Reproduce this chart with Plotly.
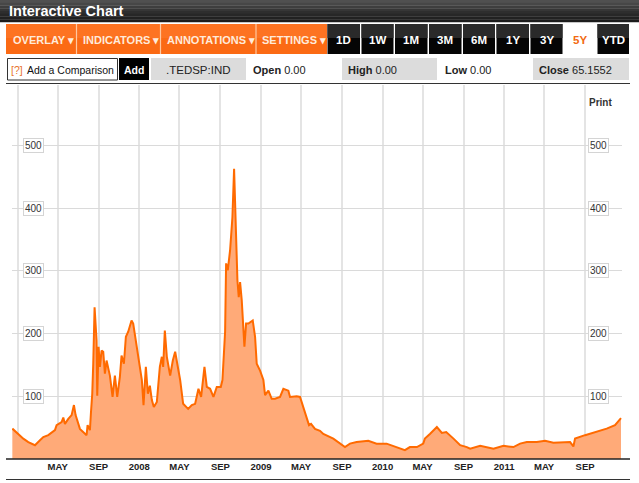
import plotly.graph_objects as go

# ---------------- data ----------------
dates = [
    "2006-12-16", "2006-12-29", "2007-01-18", "2007-02-02", "2007-02-22", "2007-03-09", "2007-03-19",
    "2007-04-03", "2007-04-23", "2007-04-28", "2007-05-13", "2007-05-18", "2007-05-23", "2007-06-02",
    "2007-06-12", "2007-06-19", "2007-06-24", "2007-07-07", "2007-07-17", "2007-07-27", "2007-07-30",
    "2007-08-06", "2007-08-09", "2007-08-13", "2007-08-16", "2007-08-20", "2007-08-26", "2007-08-28",
    "2007-09-01", "2007-09-05", "2007-09-10", "2007-09-15", "2007-09-20", "2007-09-25", "2007-10-05",
    "2007-10-13", "2007-10-20", "2007-10-27", "2007-11-04", "2007-11-09", "2007-11-16", "2007-11-22",
    "2007-11-29", "2007-12-09", "2007-12-14", "2007-12-19", "2007-12-29", "2008-01-09", "2008-01-14",
    "2008-01-21", "2008-01-27", "2008-02-02", "2008-02-08", "2008-02-14", "2008-02-23", "2008-03-03",
    "2008-03-09", "2008-03-13", "2008-03-18", "2008-03-24", "2008-04-03", "2008-04-11", "2008-04-18",
    "2008-04-23", "2008-05-03", "2008-05-12", "2008-05-27", "2008-06-07", "2008-06-17", "2008-06-27",
    "2008-07-05", "2008-07-15", "2008-07-22", "2008-08-01", "2008-08-11", "2008-08-21", "2008-09-02",
    "2008-09-07", "2008-09-12", "2008-09-15", "2008-09-18", "2008-09-23", "2008-09-30", "2008-10-03",
    "2008-10-07", "2008-10-12", "2008-10-15", "2008-10-18", "2008-10-22", "2008-10-26", "2008-10-30",
    "2008-11-04", "2008-11-09", "2008-11-12", "2008-11-17", "2008-11-24", "2008-12-07", "2008-12-14",
    "2008-12-19", "2008-12-29", "2009-01-08", "2009-01-13", "2009-01-23", "2009-02-02", "2009-02-12",
    "2009-02-27", "2009-03-09", "2009-03-24", "2009-03-29", "2009-04-18", "2009-04-28", "2009-05-08",
    "2009-05-18", "2009-05-25", "2009-05-31", "2009-06-12", "2009-06-27", "2009-07-07", "2009-08-06",
    "2009-08-26", "2009-09-10", "2009-09-25", "2009-10-15", "2009-11-19", "2009-12-14", "2010-01-13",
    "2010-02-13", "2010-03-09", "2010-03-24", "2010-04-14", "2010-05-03", "2010-05-08", "2010-05-23",
    "2010-06-13", "2010-06-28", "2010-07-11", "2010-08-02", "2010-08-22", "2010-09-11", "2010-09-21",
    "2010-10-21", "2010-11-30", "2010-12-30", "2011-01-29", "2011-02-18", "2011-03-10", "2011-04-09",
    "2011-05-04", "2011-05-29", "2011-07-18", "2011-07-28", "2011-08-02", "2011-09-01", "2011-10-06",
    "2011-11-05", "2011-11-30", "2011-12-18",
]
ted_spread = [
    48.5, 42, 32.5, 27, 22, 30, 35,
    38, 46, 54, 59, 66, 56, 64,
    70, 86, 70, 48, 43, 38, 54,
    46, 73, 104, 152, 242, 189, 101,
    179, 147, 173, 171, 136, 157, 133,
    99, 133, 99, 131, 165, 152, 195,
    203, 221, 216, 200, 163, 126, 86,
    147, 104, 117, 94, 83, 91, 147,
    163, 147, 205, 163, 133, 157, 171,
    157, 126, 88, 80, 86, 88, 112,
    99, 147, 115, 112, 99, 115, 115,
    126, 179, 203, 312, 301, 333, 360,
    386, 463, 413, 386, 285, 258, 282,
    253, 205, 179, 216, 216, 221, 195,
    152, 141, 126, 102, 109, 96, 96,
    99, 112, 109, 99, 100, 99, 83,
    67, 54, 56, 48, 45, 40, 32.5,
    24.5, 19, 24.5, 27, 29, 24.5, 24.5,
    19, 14, 19, 19, 24.5, 32.5, 40,
    51, 41.5, 43, 32.5, 22, 19, 16.5,
    21, 16.5, 21, 19, 24.5, 27, 27,
    29, 26, 27, 20, 32.5, 38, 43,
    48.5, 54, 65.1552,
]
x_tick_dates = [
    "2007-01-01", "2007-05-01", "2007-09-01", "2008-01-01", "2008-05-01", "2008-09-01",
    "2009-01-01", "2009-05-01", "2009-09-01", "2010-01-01", "2010-05-01", "2010-09-01",
    "2011-01-01", "2011-05-01", "2011-09-01",
]
x_tick_labels = ["", "MAY", "SEP", "2008", "MAY", "SEP", "2009", "MAY", "SEP",
                 "2010", "MAY", "SEP", "2011", "MAY", "SEP"]
y_ticks = [100, 200, 300, 400, 500]

# ---------------- layout helpers ----------------
W, H = 639, 483
FONT = "Liberation Sans, Arial, Helvetica, sans-serif"
shapes = []
annotations = []


def fx(x):
    return x / W


def fy(y):
    return 1 - y / H


def rect(x0, y0, x1, y1, fill, line_color=None, lw=1):
    shapes.append(dict(type="rect", xref="paper", yref="paper",
                       x0=fx(x0), x1=fx(x1), y0=fy(y1), y1=fy(y0),
                       fillcolor=fill,
                       line=dict(color=line_color or fill, width=lw if line_color else 0)))


def hline(x0, x1, y, color, w=1):
    shapes.append(dict(type="line", xref="paper", yref="paper",
                       x0=fx(x0), x1=fx(x1), y0=fy(y), y1=fy(y),
                       line=dict(color=color, width=w)))


def vline(x, y0, y1, color, w=1):
    shapes.append(dict(type="line", xref="paper", yref="paper",
                       x0=fx(x), x1=fx(x), y0=fy(y0), y1=fy(y1),
                       line=dict(color=color, width=w)))


def text(x, y, s, size=11, color="#222", anchor="left", bold=False):
    if bold:
        s = "<b>" + s + "</b>"
    annotations.append(dict(xref="paper", yref="paper", x=fx(x), y=fy(y), text=s,
                            showarrow=False, xanchor=anchor, yanchor="middle",
                            font=dict(family=FONT, size=size, color=color)))


# title bar (approximate gradient)
bands = ["#505050", "#474747", "#3e3e3e", "#363636", "#2e2e2e", "#272727", "#212121", "#1c1c1c"]
bh = 22 / len(bands)
for i, c in enumerate(bands):
    rect(0, i * bh, W, (i + 1) * bh + 0.3, c)
text(7, 11, "Interactive Chart", 14.5, "#ffffff", bold=True)

# orange menu buttons
rect(6, 24, 327, 54, "#fb6a14")
rect(6, 24, 327, 38, "#fd7322")
for sx in [76.5, 160.5, 256]:
    vline(sx, 24, 54, "#ffc8a0", 1.2)
btn_col = "#ffeadb"
text(11, 40, "OVERLAY ▾", 11, btn_col, bold=True)
text(81, 40, "INDICATORS ▾", 11, btn_col, bold=True)
text(165, 40, "ANNOTATIONS ▾", 11, btn_col, bold=True)
text(260, 40, "SETTINGS ▾", 11, btn_col, bold=True)

# black period buttons
periods = [("1D", 327.5, 360), ("1W", 361.5, 393.5), ("1M", 395, 427.5), ("3M", 429, 461.5),
           ("6M", 463, 495), ("1Y", 496.5, 529), ("3Y", 530.5, 562.5), ("5Y", 564, 596),
           ("YTD", 597.5, 629)]
for lab, a, b in periods:
    if lab == "5Y":
        rect(a, 24, b, 54, "#ffffff")
        text((a + b) / 2, 40, lab, 11.5, "#f26a10", anchor="center", bold=True)
    else:
        rect(a, 24, b, 54, "#050505")
        rect(a, 24, b, 38, "#2a2a2a")
        text((a + b) / 2, 40, lab, 11.5, "#ffffff", anchor="center", bold=True)

# second row
rect(7.5, 58.5, 117.5, 80, "#ffffff", "#333333", 1)
text(8.5, 69.5, "[?]", 10.5, "#e8732a")
text(25, 69.5, "Add a Comparison", 10.5, "#111111")
rect(119, 58, 149, 80, "#000000")
text(134, 69.5, "Add", 10.5, "#ffffff", anchor="center", bold=True)
rect(151, 58, 246, 80, "#dcdcdc")
text(198.5, 69.5, ".TEDSP:IND", 11.5, "#222222", anchor="center")
text(251, 69.5, "<b>Open</b> 0.00", 11, "#222222")
rect(342, 58, 437, 80, "#dcdcdc")
text(346, 69.5, "<b>High</b> 0.00", 11, "#222222")
text(442.5, 69.5, "<b>Low</b> 0.00", 11, "#222222")
rect(533, 58, 629, 80, "#dcdcdc")
text(537, 69.5, "<b>Close</b> 65.1552", 11, "#222222")
hline(6, 630, 83.5, "#333333", 1)

# Print
text(587, 102.5, "Print", 10, "#333333", bold=True)

# axis and bottom lines
hline(6, 630, 459, "#222222", 1.3)
hline(6, 630, 479.5, "#333333", 1)

# y labels (boxed) on both sides
for v in y_ticks:
    for xc in [33, 598]:
        annotations.append(dict(xref="paper", yref="y", x=fx(xc), y=v, text=str(v),
                                showarrow=False, xanchor="center", yanchor="middle",
                                bgcolor="#ffffff", bordercolor="#d4d4d4", borderwidth=1,
                                borderpad=1,
                                font=dict(family=FONT, size=10, color="#333333")))

fig = go.Figure()
fig.add_trace(go.Scatter(
    x=dates, y=ted_spread, mode="lines",
    line=dict(color="#ff6a00", width=2),
    fill="tozeroy", fillcolor="#ffaa78",
    hoverinfo="x+y", showlegend=False,
))

fig.update_layout(
    width=W, height=H,
    margin=dict(l=0, r=0, t=0, b=0),
    paper_bgcolor="#ffffff", plot_bgcolor="#ffffff",
    shapes=shapes, annotations=annotations,
    xaxis=dict(type="date", domain=[fx(12), fx(622)],
               range=["2006-12-15", "2011-12-21"],
               tickmode="array", tickvals=x_tick_dates,
               ticktext=["<b>" + t + "</b>" if t else "" for t in x_tick_labels],
               tickfont=dict(family=FONT, size=9.5, color="#222222"),
               showgrid=True, gridcolor="#e4e4e4", gridwidth=2,
               showline=False, zeroline=False, ticks="", fixedrange=True),
    yaxis=dict(domain=[fy(459), fy(85)], range=[0, 596.5],
               tickmode="array", tickvals=y_ticks, showticklabels=False,
               showgrid=True, gridcolor="#dadada", gridwidth=1,
               zeroline=False, showline=False, fixedrange=True),
)

fig.write_html("out.html")
